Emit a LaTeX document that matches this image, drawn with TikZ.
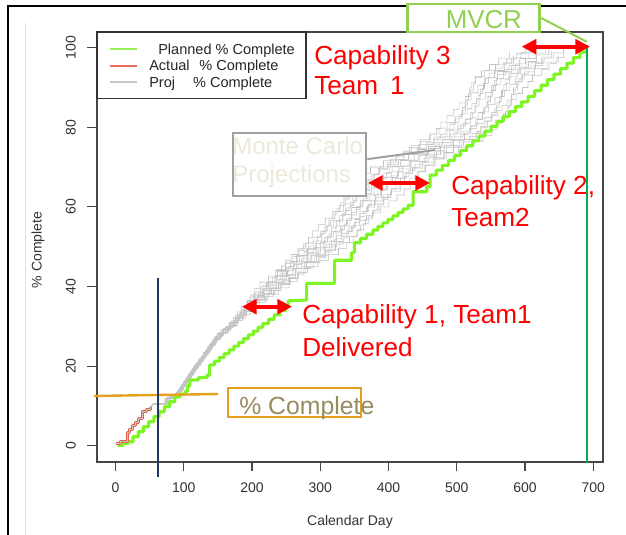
\documentclass[tikz,border=0pt]{standalone}
\usepackage{fontspec}
\setmainfont{Liberation Sans}
\usetikzlibrary{arrows.meta}

\definecolor{planned}{RGB}{125,245,35}
\definecolor{legplanned}{RGB}{150,240,90}
\definecolor{actred}{RGB}{225,95,75}
\definecolor{actinner}{RGB}{215,195,190}
\definecolor{legred}{RGB}{232,110,90}
\definecolor{projgray}{RGB}{195,195,195}
\definecolor{legproj}{RGB}{200,200,200}
\definecolor{axisgray}{RGB}{70,70,70}
\definecolor{mvcrgreen}{RGB}{146,208,80}
\definecolor{datelinegreen}{RGB}{0,176,80}
\definecolor{mcgray}{RGB}{160,160,160}
\definecolor{mctext}{RGB}{236,233,218}
\definecolor{pcorange}{RGB}{230,160,30}
\definecolor{pctext}{RGB}{150,140,95}
\definecolor{navyline}{RGB}{31,56,100}

% one linear stretch of a step curve, drawn as a staircase
\newcommand\stairseg[5]{-- plot[const plot, domain=#1:#3, samples=#5] (\x,{#2+(\x-#1)*(#4-#2)/(#3-#1)})}

\begin{document}
\begin{tikzpicture}[x=0.75pt, y=-0.75pt,
  axistext/.style={font=\fontsize{10.5}{12}\selectfont, text=black!80, inner sep=0pt},
  legtext/.style={font=\fontsize{10.9}{12}\selectfont, text=black!85, inner sep=0pt, anchor=base west},
  legline/.style={line width=1.5pt},
  callout/.style={font=\fontsize{19.6}{22}\selectfont, text=red, inner sep=0pt, anchor=base west},
  dblarrow/.style={red, line width=3pt, {Triangle[length=11pt,width=11pt]}-{Triangle[length=11pt,width=11pt]}},
  proj/.style={projgray, line width=0.45pt},
  plannedline/.style={planned, line width=2.3pt, line join=round},
  tick/.style={axisgray, line width=0.8pt},
  declare function={
    lft(\t)=50 + 12.67*(\t-10) + (3.857-12.67)*max(\t-13,0) + (4.125-3.857)*max(\t-20,0)
      + (6.667-4.125)*max(\t-28,0) + (5-6.667)*max(\t-31,0) + (4.5-5)*max(\t-35,0)
      + (6-4.5)*max(\t-41,0) + (6.667-6)*max(\t-46,0) + (4.5-6.667)*max(\t-52,0)
      + (5-4.5)*max(\t-58,0) + (5.833-5)*max(\t-64,0) + (10-5.833)*max(\t-70,0)
      + (6-10)*max(\t-79,0) + (3.333-6)*max(\t-84,0) + (9-3.333)*max(\t-93,0);
    spr(\t)=0.222*max(\t-12,0) + 0.778*max(\t-30,0) + 4*max(\t-36,0)
      - 3.2*max(\t-42,0) - 0.586*max(\t-52,0) - 1.067*max(\t-66,0);
    jit(\t)=5*min(max(\t-25,0)/12,1);
  }]
\useasboundingbox (0,0) rectangle (626,535);
\fill[white] (0,0) rectangle (626,535);

% page frame
\draw[black!12, line width=0.6pt] (25,23) -- (25,535);
\draw[black, line width=1.9pt] (8,535) -- (8,6) -- (626,6);

% plot frame and axes
\draw[axisgray, line width=0.8pt] (97,32) rectangle (603,462);
\foreach \d in {0,100,...,700} {
  \draw[tick] ({115.5+0.6825*\d},462) -- ++(0,9);
  \node[axistext, anchor=base] (xl\d) at ({115.5+0.6825*\d},492.5) {\d};
}
\foreach \p in {0,20,...,100} {
  \draw[tick] (97,{445.7-3.98*\p}) -- ++(-10,0);
  \node[axistext, rotate=90, anchor=base] (yl\p) at (75.5,{445.7-3.98*\p}) {\p};
}
\node[axistext, anchor=base] (xtitle) at (350,525) {Calendar Day};
\node[axistext, rotate=90, anchor=base] (ytitle) at (41.5,250) {\% Complete};

% data curves (days, percent)
\begin{scope}[shift={(115.5,445.7)}, x=0.511875pt, y=2.985pt]
  \coordinate (actend) at (51,9.8);
  \foreach \fa/\ph/\ns/\te in {0.00/0/56/99, 0.07/130/63/100, 0.15/260/48/98,
      0.22/30/71/100, 0.30/170/59/97, 0.37/300/53/99, 0.45/80/67/100,
      0.52/210/61/98, 0.60/340/51/100, 0.67/110/65/99, 0.75/240/57/97,
      0.83/20/69/100, 0.90/150/55/98, 1.00/280/60/99}
    \draw[proj] (actend) -- plot[const plot, domain=10.5:\te, samples=\ns, variable=\t]
      ({lft(\t)+\fa*spr(\t)+jit(\t)*sin(\ph+25*\t)}, \t);

  \draw[plannedline] (3,0)
    \stairseg{3}{0}{18}{1}{3}
    \stairseg{18}{1}{87}{12.3}{10}
    \stairseg{87}{12.3}{102}{13.6}{3}
    \stairseg{102}{13.6}{109}{16.5}{3}
    \stairseg{109}{16.5}{134}{17.7}{3}
    \stairseg{134}{17.7}{138}{20.3}{2}
    \stairseg{138}{20.3}{216}{30.7}{12}
    \stairseg{216}{30.7}{249}{35}{5}
    -- (253,35) -- (253,36.4) -- (280,36.6) -- (280,40.8) -- (321,40.8)
    -- (321,46.6) -- (346,46.6) -- (346,48.5) -- (350,48.5) -- (350,51)
    \stairseg{350}{51}{377}{54.2}{4}
    \stairseg{377}{54.2}{436}{61.3}{9}
    -- (436,63.8) -- (456,63.8) -- (456,65.1) -- (461,65.1) -- (461,68)
    \stairseg{461}{68}{595}{86.4}{16}
    \stairseg{595}{86.4}{690}{100.3}{11};

  \draw[actred, line width=2.3pt, line join=round] plot[const plot] coordinates
    {(0,0.6) (7,1) (15,1) (17,3.2) (21,4) (25,5) (29,5.8) (34,6.9) (39,8.5) (46,9) (51,9.8)};
  \draw[actinner, line width=0.7pt, line join=round] plot[const plot] coordinates
    {(0,0.6) (7,1) (15,1) (17,3.2) (21,4) (25,5) (29,5.8) (34,6.9) (39,8.5) (46,9) (51,9.8)};
\end{scope}

% legend
\draw[black!80, fill=white, line width=0.8pt] (97,32) rectangle (306,98.7);
\draw[legline, legplanned] (110,49.3) -- (137,49.3);
\draw[legline, legred] (110,65.7) -- (137,65.7);
\draw[legline, legproj] (110,82) -- (137,82);
\node[legtext] (legplan) at (158,54.3) {Planned \% Complete};
\node[legtext] (legact) at (149,71) {Actual\hspace{7.3pt}\% Complete};
\node[legtext] (legprj) at (149,87.5) {Proj\hspace{13.5pt}\% Complete};

% date marker lines
\coordinate (dtop) at (586.7,45);
\coordinate (dbot) at (586.7,463);
\draw[datelinegreen, line width=1.2pt] (dtop) -- (dbot);
\coordinate (ol1) at (94,396);
\coordinate (ol2) at (218,394);
\draw[pcorange, line width=1.8pt] (ol1) -- (ol2);
\coordinate (bl1) at (157.7,278);
\coordinate (bl2) at (157.7,476.7);
\draw[navyline, line width=1.4pt] (bl1) -- (bl2);

% MVCR call-out
\node[draw=mvcrgreen, line width=2pt, fill=white, minimum width=99pt, minimum height=21pt, inner sep=0pt] (mvcr) at (473.8,18) {};
\node[font=\fontsize{19.4}{22}\selectfont, text=mvcrgreen, inner sep=0pt, anchor=base west] (mvcrlabel) at (445.5,28.3) {MVCR};
\coordinate (mvcrend) at (586.7,41.7);
\draw[mvcrgreen, line width=1.5pt] (mvcr.east) -- (mvcrend);

% Monte Carlo call-out
\node[draw=mcgray, line width=2pt, fill=white, minimum width=99.75pt, minimum height=47.25pt, inner sep=0pt] (mc) at (299.5,164.5) {};
\node[font=\fontsize{18}{21}\selectfont, text=mctext, inner sep=0pt, anchor=base west] (mc1) at (232,155) {Monte Carlo};
\node[font=\fontsize{18}{21}\selectfont, text=mctext, inner sep=0pt, anchor=base west] (mc2) at (232,183) {Projections};
\coordinate (mcend) at (435,150);
\draw[mcgray, line width=1.5pt] ([yshift=4pt]mc.east) -- (mcend);

% percent-complete call-out
\node[draw=pcorange, line width=2pt, fill=white, minimum width=99.75pt, minimum height=21.75pt, inner sep=0pt] (pcbox) at (294.5,402.5) {};
\node[font=\fontsize{18.6}{21}\selectfont, text=pctext, inner sep=0pt, anchor=base west] (pctxt) at (239,414) {\% Complete};

% capability call-outs
\node[callout] (cap3) at (314,65) {Capability 3};
\node[callout] (team1) at (314,95) {Team\hspace{9pt}1};
\node[callout] (cap2) at (451,195) {Capability 2,};
\node[callout] (team2) at (451,226.7) {Team2};
\node[callout] (cap1) at (302,323.3) {Capability 1, Team1};
\node[callout] (deliv) at (302,356.7) {Delivered};

% delivery windows
\coordinate (c1a) at (242,306.7);
\coordinate (c1b) at (292,306.7);
\coordinate (c2a) at (368,183);
\coordinate (c2b) at (430,183);
\coordinate (c3a) at (521.7,46.7);
\coordinate (c3b) at (590,46.7);
\draw[dblarrow] (c1a) -- (c1b);
\draw[dblarrow] (c2a) -- (c2b);
\draw[dblarrow] (c3a) -- (c3b);
\end{tikzpicture}
\end{document}
